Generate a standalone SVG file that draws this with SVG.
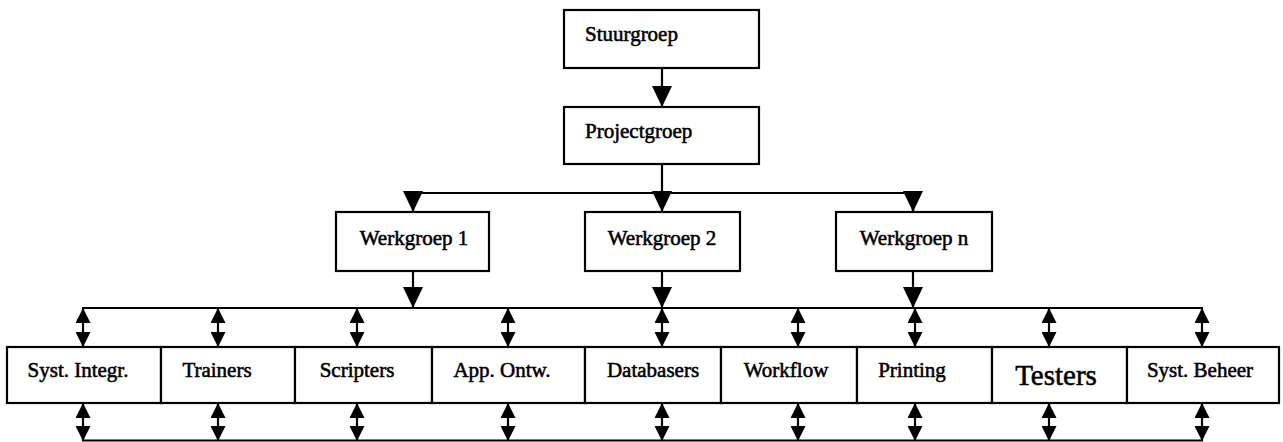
<svg xmlns="http://www.w3.org/2000/svg" width="1283" height="442" viewBox="0 0 1283 442">
<style>
.box{fill:#fff;stroke:#000;stroke-width:2.2}
.ln{fill:none;stroke:#000;stroke-width:2.2}
.t{font-family:"Liberation Serif","Times New Roman",serif;font-size:21px;fill:#000;stroke:#000;stroke-width:0.55}
.c{text-anchor:middle}
.big{font-size:29px}
</style>
<defs>
<marker id="ah" markerUnits="userSpaceOnUse" viewBox="0 0 21 20" refX="21" refY="10" markerWidth="21" markerHeight="20" orient="auto">
<path d="M0,0 L21,10 L0,20 z" fill="#000"/>
</marker>
<marker id="dh" markerUnits="userSpaceOnUse" viewBox="0 0 15 15" refX="15" refY="7.5" markerWidth="15" markerHeight="15" orient="auto-start-reverse">
<path d="M0,0 L15,7.5 L0,15 z" fill="#000"/>
</marker>
</defs>
<rect width="1283" height="442" fill="#fff"/>
<g id="connectors">
<line class="ln" x1="662" y1="68" x2="662" y2="107" marker-end="url(#ah)"/>
<line class="ln" x1="662" y1="164" x2="662" y2="212" marker-end="url(#ah)"/>
<polyline class="ln" points="413,212 413,193 913,193 913,212"/>
<line class="ln" x1="413" y1="193" x2="413" y2="212" marker-end="url(#ah)"/>
<line class="ln" x1="913" y1="193" x2="913" y2="212" marker-end="url(#ah)"/>
<line class="ln" x1="413" y1="271" x2="413" y2="308" marker-end="url(#ah)"/>
<line class="ln" x1="662" y1="271" x2="662" y2="308" marker-end="url(#ah)"/>
<line class="ln" x1="913" y1="271" x2="913" y2="308" marker-end="url(#ah)"/>
<line class="ln" x1="82" y1="308" x2="1203" y2="308"/>
<line class="ln" x1="82" y1="440.5" x2="1203" y2="440.5"/>
<g marker-start="url(#dh)" marker-end="url(#dh)">
<line class="ln" x1="83" y1="308" x2="83" y2="347"/>
<line class="ln" x1="218" y1="308" x2="218" y2="347"/>
<line class="ln" x1="357" y1="308" x2="357" y2="347"/>
<line class="ln" x1="508" y1="308" x2="508" y2="347"/>
<line class="ln" x1="662" y1="308" x2="662" y2="347"/>
<line class="ln" x1="798" y1="308" x2="798" y2="347"/>
<line class="ln" x1="915" y1="308" x2="915" y2="347"/>
<line class="ln" x1="1049" y1="308" x2="1049" y2="347"/>
<line class="ln" x1="1202" y1="308" x2="1202" y2="347"/>
<line class="ln" x1="83" y1="403" x2="83" y2="441"/>
<line class="ln" x1="218" y1="403" x2="218" y2="441"/>
<line class="ln" x1="357" y1="403" x2="357" y2="441"/>
<line class="ln" x1="508" y1="403" x2="508" y2="441"/>
<line class="ln" x1="662" y1="403" x2="662" y2="441"/>
<line class="ln" x1="798" y1="403" x2="798" y2="441"/>
<line class="ln" x1="915" y1="403" x2="915" y2="441"/>
<line class="ln" x1="1049" y1="403" x2="1049" y2="441"/>
<line class="ln" x1="1202" y1="403" x2="1202" y2="441"/>
</g>
</g>
<g id="stuurgroep"><rect class="box" x="564" y="10" width="195" height="58"/><text class="t" x="585" y="41">Stuurgroep</text></g>
<g id="projectgroep"><rect class="box" x="564" y="107" width="195" height="57"/><text class="t" x="585" y="138">Projectgroep</text></g>
<g id="werkgroep1"><rect class="box" x="336" y="212" width="153" height="59"/><text class="t c" x="414" y="245">Werkgroep 1</text></g>
<g id="werkgroep2"><rect class="box" x="585" y="212" width="155" height="59"/><text class="t c" x="662" y="245">Werkgroep 2</text></g>
<g id="werkgroepn"><rect class="box" x="836" y="212" width="156" height="59"/><text class="t c" x="914" y="245">Werkgroep n</text></g>
<g id="syst-integr"><rect class="box" x="7" y="347" width="154" height="56"/><text class="t c" x="78" y="377">Syst. Integr.</text></g>
<g id="trainers"><rect class="box" x="161" y="347" width="134" height="56"/><text class="t c" x="217" y="377">Trainers</text></g>
<g id="scripters"><rect class="box" x="295" y="347" width="137" height="56"/><text class="t c" x="357" y="377">Scripters</text></g>
<g id="app-ontw"><rect class="box" x="432" y="347" width="153" height="56"/><text class="t c" x="502" y="377">App. Ontw.</text></g>
<g id="databasers"><rect class="box" x="585" y="347" width="136" height="56"/><text class="t c" x="653" y="377">Databasers</text></g>
<g id="workflow"><rect class="box" x="721" y="347" width="136" height="56"/><text class="t c" x="786" y="377">Workflow</text></g>
<g id="printing"><rect class="box" x="857" y="347" width="135" height="56"/><text class="t c" x="912" y="377">Printing</text></g>
<g id="testers"><rect class="box" x="992" y="347" width="135" height="56"/><text class="t c big" x="1056" y="385">Testers</text></g>
<g id="syst-beheer"><rect class="box" x="1127" y="347" width="152" height="56"/><text class="t c" x="1200" y="377">Syst. Beheer</text></g>
</svg>
